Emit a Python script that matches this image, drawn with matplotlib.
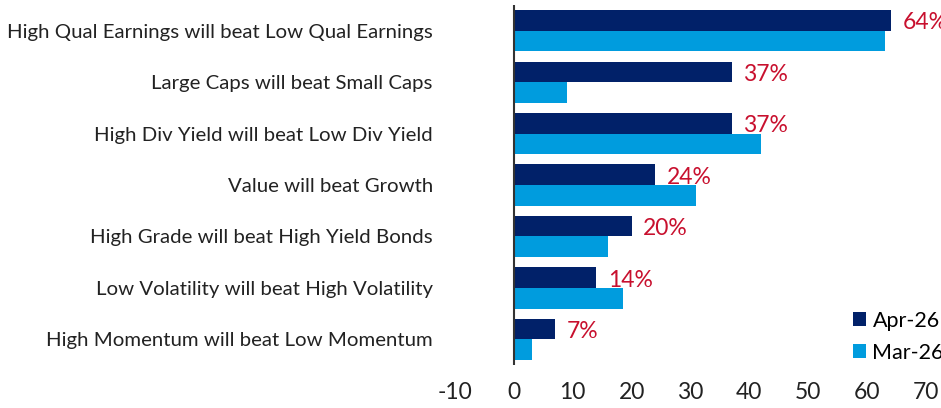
#!/usr/bin/env python3
import numpy as np
import matplotlib
matplotlib.use('Agg')
import matplotlib.pyplot as plt

#-------------------------------------------------------------------------#
# Data                                                                    #
#-------------------------------------------------------------------------#
categories  = ['High Qual Earnings will beat Low Qual Earnings',
               'Large Caps will beat Small Caps',
               'High Div Yield will beat Low Div Yield',
               'Value will beat Growth',
               'High Grade will beat High Yield Bonds',
               'Low Volatility will beat High Volatility',
               'High Momentum will beat Low Momentum']
apr26       = [64, 37, 37, 24, 20, 14, 7]
mar26       = [63, 9, 42, 31, 16, 18.5, 3]
apr_labels  = ['64%', '37%', '37%', '24%', '20%', '14%', '7%']
xticks      = [-10, 0, 10, 20, 30, 40, 50, 60, 70]

#-------------------------------------------------------------------------#
# Plot                                                                    #
#-------------------------------------------------------------------------#
plt.rcParams['font.family'] = ['Lato', 'DejaVu Sans']
plt.rcParams['axes.unicode_minus'] = False
navy        = '#012169'
light       = '#009CDE'
red         = '#C8102E'

fig = plt.figure(figsize=(9.41, 4.08), dpi=100)
ax  = fig.add_axes([0.4835, 0.105, 0.5005, 0.883])

y   = np.arange(len(categories))
h   = 0.4
ax.barh(y - h/2, apr26, height=h, color=navy, label='Apr-26')
ax.barh(y + h/2, mar26, height=h, color=light, label='Mar-26')

for yi, v, lab in zip(y, apr26, apr_labels):
    ax.text(v + 2.0, yi - h/2 + 0.05, lab, color=red, fontsize=16.5,
            va='center', ha='left', clip_on=False)

ax.axvline(0, color='#333333', lw=1.5)
ax.set_xlim(-10, 70)
ax.set_ylim(len(categories) - 0.5, -0.5)
ax.set_xticks(xticks)
ax.set_yticks(y)
ax.set_yticklabels(categories, fontsize=14.7, color='#222222')
ax.tick_params(axis='x', length=0, labelsize=16.5, colors='#222222', pad=12)
ax.tick_params(axis='y', length=0, pad=16)
for s in ax.spines.values():
    s.set_visible(False)

ax.legend(loc='lower right', bbox_to_anchor=(1.07, -0.035), frameon=False,
          fontsize=15.5, handlelength=0.6, handleheight=0.6,
          handletextpad=0.3, labelspacing=0.55, borderpad=0.2)

fig.savefig('out.png', dpi=100)
